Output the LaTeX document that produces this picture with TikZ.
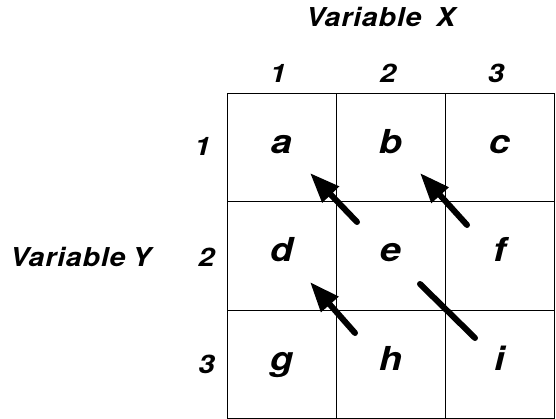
\documentclass[tikz,border=0pt]{standalone}
\usepackage{fontspec}
\usetikzlibrary{arrows.meta}
\newfontfamily\hv{TeX Gyre Heros}[FakeStretch=1.15]
\newfontfamily\hvsp{TeX Gyre Heros}[FakeStretch=1.1,LetterSpace=3]
\begin{document}
\begin{tikzpicture}[x=1pt,y=-1pt,
  cell/.style={draw,line width=0.8pt,minimum width=109pt,minimum height=108.5pt,inner sep=0pt,
    text height=12pt,text depth=0pt,font=\hv\bfseries\itshape\fontsize{33}{33}\selectfont},
  idx/.style={inner sep=0pt,anchor=base,font=\hv\bfseries\itshape\fontsize{25.5}{25.5}\selectfont},
  varlabel/.style={inner sep=0pt,anchor=base west,font=\hvsp\bfseries\itshape\fontsize{26}{26}\selectfont},
  bigarrow/.style={line width=6pt,line cap=round,-{Triangle[length=30pt,width=22pt]}},
  bigline/.style={line width=6pt,line cap=round}]
\useasboundingbox (0,0) rectangle (556,419);
% cells
\node[cell] (a) at (281.5,147.25) {a};
\node[cell] (b) at (390.5,147.25) {b};
\node[cell] (c) at (499.5,147.25) {c};
\node[cell] (d) at (281.5,255.75) {d};
\node[cell] (e) at (390.5,255.75) {e};
\node[cell] (f) at (499.5,255.75) {f};
\node[cell] (g) at (281.5,364.25) {g};
\node[cell] (h) at (390.5,364.25) {h};
\node[cell] (i) at (499.5,364.25) {i};
% column indices
\node[idx] (x1) at (278,83) {1};
\node[idx] (x2) at (388,83) {2};
\node[idx] (x3) at (496,83) {3};
% row indices
\node[idx,anchor=base east] (y1) at (211,156) {1};
\node[idx,anchor=base east] (y2) at (215,266) {2};
\node[idx,anchor=base east] (y3) at (215,373) {3};
% axis labels
\node[varlabel] (vx) at (306,27) {Variable\hspace{6pt} X};
\node[varlabel] (vy) at (10,266) {Variable\hspace{-2pt} Y};
% arrows
\coordinate (t1) at (357,222); \coordinate (h1) at (310,173);
\coordinate (t2) at (467,225); \coordinate (h2) at (420,173);
\coordinate (t3) at (355,333); \coordinate (h3) at (310,282);
\coordinate (l1) at (420,284); \coordinate (l2) at (475,338);
\draw[bigarrow] (t1) -- (h1);
\draw[bigarrow] (t2) -- (h2);
\draw[bigarrow] (t3) -- (h3);
\draw[bigline] (l1) -- (l2);
\end{tikzpicture}
\end{document}
